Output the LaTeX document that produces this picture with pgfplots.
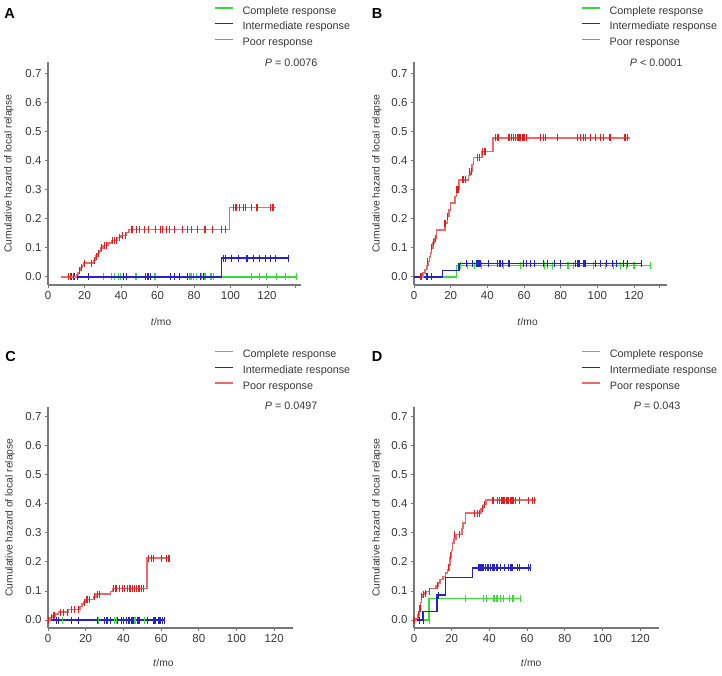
\documentclass[border=0pt]{standalone}
\usepackage{fontspec}
\setmainfont{Liberation Sans}
\usepackage{pgfplots}
\pgfplotsset{compat=1.18}
\definecolor{cgreen}{RGB}{55,220,55}
\definecolor{cblue}{RGB}{35,35,200}
\definecolor{credl}{RGB}{240,105,105}
\definecolor{cred}{RGB}{225,30,30}
\definecolor{axgray}{RGB}{120,120,120}
\definecolor{txtgray}{RGB}{55,55,55}
\tikzset{pval/.style={anchor=east, font=\fontsize{10.8}{12}\selectfont, text=txtgray}}
\pgfplotsset{
  km/.style={
    scale only axis, xmin=0, ymin=-0.0275, clip mode=individual,
    axis lines=left, axis line style={draw=axgray, line width=1.2pt, -},
    tick align=outside, major tick length=3pt,
    tick style={draw=axgray, line width=1pt},
    ytick={0,0.1,0.2,0.3,0.4,0.5,0.6,0.7},
    yticklabel style={/pgf/number format/.cd, fixed, fixed zerofill, precision=1},
    xtick={0,20,40,60,80,100,120},
    tick label style={font=\fontsize{11.5}{13}\selectfont, text=txtgray},
    /pgf/number format/assume math mode=true,
    ylabel={Cumulative hazard of local relapse}, xlabel={\textit{t}/mo},
    label style={font=\fontsize{10.3}{12}\selectfont, text=txtgray},
    legend cell align=left,
    legend style={draw=none, fill=none, inner sep=0pt, row sep=5.3pt,
      font=\fontsize{10.8}{12}\selectfont,
      nodes={inner sep=0pt, text height=7.8pt, text depth=2.6pt},
      /tikz/every odd column/.append style={column sep=9pt}},
    legend image code/.code={\draw[##1] (0pt,3.7pt) -- (18pt,3.7pt);},
  },
  cens/.style={only marks, mark=|, mark size=3.5pt, mark options={line width=1.1pt}, forget plot},
  curve/.style={const plot, line width=1.5pt, mark=none, forget plot},
}
\newcommand{\kmlegend}{%
\addlegendimage{draw=cgreen, line width=1.5pt}\addlegendentry{\textcolor{txtgray}{Complete response}}
\addlegendimage{draw=cblue, line width=1.5pt}\addlegendentry{\textcolor{txtgray}{Intermediate response}}
\addlegendimage{draw=credl, line width=1.5pt}\addlegendentry{\textcolor{txtgray}{Poor response}}}
\begin{document}
\begin{tikzpicture}
\path[use as bounding box] (0pt,0pt) rectangle (722pt,675pt);
% Panel letters
\node[font=\bfseries\fontsize{14.5}{15}\selectfont] at (9.5pt,661pt) {A};
\node[font=\bfseries\fontsize{14.5}{15}\selectfont] at (377pt,661pt) {B};
\node[font=\bfseries\fontsize{14.5}{15}\selectfont] at (10.5pt,318pt) {C};
\node[font=\bfseries\fontsize{14.5}{15}\selectfont] at (377pt,318pt) {D};

% ---------------- A ----------------
\begin{axis}[km, at={(48pt,390pt)}, anchor=south west, width=253pt, height=223pt,
  xmax=138.6, ymax=0.739,
  extra x ticks={135.5}, extra x tick labels={},
  xlabel style={at={(axis description cs:0.447,-0.166)}, anchor=center},
  ylabel style={at={(axis description cs:-0.154,0.5)}, anchor=center},
  legend style={at={(axis description cs:0.656,1.25)}, anchor=north west}]
\kmlegend
\addplot[curve, cgreen] coordinates {(16,0) (136,0)};
\addplot[cens, cgreen] coordinates {(30.3,0)(34.9,0)(36.2,0)(38.5,0)(39.5,0)(48.2,0)(58.6,0)(77.8,0)(78.7,0)(79.6,0)(81.4,0)(84.2,0)(86,0)(88.8,0)(89.7,0)(90.6,0)(111.6,0)(115.8,0)(119.8,0)(125.3,0)(129.9,0)(135.9,0)};
\addplot[curve, cblue] coordinates {(12,0) (95,0.065) (132,0.065)};
\addplot[cens, cblue] coordinates {(13,0)(14.5,0)(16,0)(22,0)(41.5,0)(43,0)(53.5,0)(54.5,0)(55.3,0)(56,0)(67,0)(69.5,0)(72,0)(76.5,0)(83.5,0)(85,0)
 (96,0.065)(97,0.065)(100.4,0.065)(104.5,0.065)(109,0.065)(112.7,0.065)(115.8,0.065)(119,0.065)(121.8,0.065)(124.5,0.065)(131.8,0.065)};
\addplot[curve, credl] coordinates {(7.3,0)(15.5,0.008)(16.5,0.016)(17.3,0.024)(18,0.032)(18.7,0.04)(19.5,0.048)(25,0.056)(25.7,0.064)(26.4,0.072)(27,0.08)(28,0.09)(29,0.1)(30,0.108)(33,0.117)(35,0.126)(38,0.135)(40,0.143)(43,0.153)(44.5,0.163)(99.5,0.239)(125,0.239)};
\addplot[cens, cred] coordinates {(11,0)(12.5,0)(14,0)(17.5,0.024)(18.5,0.032)(20,0.048)(24,0.048)(25.3,0.056)(26.6,0.072)(27.5,0.08)(29.5,0.1)(31,0.108)(32,0.108)(35.5,0.126)(36.5,0.126)(37.5,0.126)(39,0.135)(41,0.143)(42.5,0.143)
 (46,0.163)(48.5,0.163)(50,0.163)(52.7,0.163)(54.9,0.163)(59.1,0.163)(61.5,0.163)(62.9,0.163)(65.1,0.163)(66.7,0.163)(69.1,0.163)(73.6,0.163)(76.4,0.163)(78.5,0.163)(81.8,0.163)(86,0.163)(90,0.163)(95.1,0.163)(97.3,0.163)
 (101.8,0.239)(103,0.239)(105,0.239)(106.9,0.239)(108.2,0.239)(111.3,0.239)(114.5,0.239)(121.8,0.239)(123.1,0.239)(123.6,0.239)};
\node[pval] at (axis description cs:1.079,0.995) {\textit{P} = 0.0076};
\end{axis}

% ---------------- B ----------------
\begin{axis}[km, at={(414pt,390pt)}, anchor=south west, width=253pt, height=223pt,
  xmax=138, ymax=0.739,
  extra x ticks={134}, extra x tick labels={},
  xlabel style={at={(axis description cs:0.449,-0.166)}, anchor=center},
  ylabel style={at={(axis description cs:-0.146,0.5)}, anchor=center},
  legend style={at={(axis description cs:0.66,1.25)}, anchor=north west}]
\kmlegend
\addplot[curve, cgreen] coordinates {(0,0)(23.1,0.04)(129.5,0.04)};
\addplot[cens, cgreen] coordinates {(25.5,0.04)(29,0.04)(33,0.04)(36.7,0.04)(49,0.04)(58,0.04)(71,0.04)(73,0.04)(75.5,0.04)(80,0.04)(84,0.04)(87,0.04)(98,0.04)(104.5,0.04)(109,0.04)(112.7,0.04)(116,0.04)(120,0.04)(129,0.04)};
\addplot[curve, cblue] coordinates {(0,0)(15.5,0.023)(24.5,0.047)(124.5,0.047)};
\addplot[cens, cblue] coordinates {(6.7,0)(7.5,0)(9.5,0)
 (28.7,0.047)(31.8,0.047)(34.2,0.047)(34.9,0.047)(36,0.047)(40.4,0.047)(45.5,0.047)(46.9,0.047)(48.2,0.047)(51.8,0.047)(59.6,0.047)(61.5,0.047)(63.3,0.047)(65.5,0.047)(70.5,0.047)(72.7,0.047)(76.4,0.047)(80,0.047)(88.2,0.047)(89.1,0.047)(90,0.047)(92.7,0.047)(93.6,0.047)(99.1,0.047)(101.8,0.047)(105,0.047)(108.2,0.047)(110.5,0.047)(114.5,0.047)(116.4,0.047)(124.2,0.047)};
\addplot[curve, credl] coordinates {(3.8,0)(5,0.013)(6,0.026)(7,0.04)(7.8,0.053)(8.5,0.068)(9,0.083)(9.6,0.1)(10.3,0.117)(10.9,0.133)(12.4,0.162)(16.9,0.185)(18.2,0.208)(19,0.231)(20,0.254)(22.4,0.277)(23.3,0.3)(24.5,0.334)(29.6,0.349)(30.5,0.363)(31.5,0.387)(32.4,0.41)(37,0.432)(43,0.478)(118,0.478)};
\addplot[cens, cred] coordinates {(3.8,0)(7.5,0.053)(9.6,0.1)(10.5,0.117)(11.8,0.133)(16.9,0.185)(18.5,0.208)(23.1,0.3)(24,0.3)(26.7,0.334)(28.2,0.334)(30.5,0.363)(31.5,0.363)(34.5,0.41)(35.5,0.41)(37.6,0.432)(38.7,0.432)
 (44.5,0.478)(45.8,0.478)(51.8,0.478)(53.1,0.478)(54.2,0.478)(55.5,0.478)(56.7,0.478)(57.8,0.478)(59.1,0.478)(60,0.478)(61.5,0.478)(69.1,0.478)(70.5,0.478)(71.8,0.478)(78.5,0.478)(89.1,0.478)(90.9,0.478)(92.4,0.478)(93.6,0.478)(96.4,0.478)(99.1,0.478)(101.5,0.478)(103.6,0.478)(106.9,0.478)(115.1,0.478)(116.4,0.478)};
\node[pval] at (axis description cs:1.075,0.995) {\textit{P} < 0.0001};
\end{axis}

% ---------------- C ----------------
\begin{axis}[km, at={(48pt,47pt)}, anchor=south west, width=245pt, height=221pt,
  xmax=130, ymax=0.734,
  xlabel style={at={(axis description cs:0.471,-0.158)}, anchor=center},
  ylabel style={at={(axis description cs:-0.155,0.5)}, anchor=center},
  legend style={at={(axis description cs:0.678,1.258)}, anchor=north west}]
\kmlegend
\addplot[curve, cgreen] coordinates {(2,0)(52,0)};
\addplot[curve, cblue] coordinates {(0,0)(62,0)};
\addplot[cens, cgreen] coordinates {(7.6,0)(27,0)(35.4,0)(36.3,0)(45.7,0)(46.5,0)(51.3,0)};
\addplot[cens, cblue] coordinates {(4.4,0)(5.8,0)(12.4,0)(16.3,0)(26.2,0)(30.1,0)(31.3,0)(33,0)(37,0)(38.9,0)(40.2,0)(41.6,0)(43,0)(44.2,0)(45.1,0)(47.3,0)(48.3,0)(52.8,0)(55.8,0)(56.6,0)(57.2,0)(58.9,0)(59.6,0)(60.7,0)(61.9,0)};
\addplot[curve, credl] coordinates {(0,0)(1,0.009)(2.5,0.014)(4,0.02)(5.5,0.027)(10.8,0.037)(17,0.046)(18,0.055)(19,0.062)(20,0.07)(24.5,0.08)(25.5,0.089)(33.2,0.098)(34.5,0.108)(52.5,0.213)(64.5,0.213)};
\addplot[cens, cred] coordinates {(0.5,0)(1.8,0.009)(2.7,0.014)(3.5,0.014)(6.7,0.027)(8,0.027)(10.3,0.027)(12.4,0.037)(14.2,0.037)(16.3,0.037)(19.5,0.062)(20.7,0.07)(22,0.07)(24.8,0.08)(26.5,0.089)(27.4,0.089)
 (34.8,0.108)(35.6,0.108)(36.3,0.108)(37.7,0.108)(39.5,0.108)(40.7,0.108)(42,0.108)(43.4,0.108)(43.9,0.108)(44.8,0.108)(46,0.108)(46.9,0.108)(48.3,0.108)(49.6,0.108)(50.8,0.108)
 (53.1,0.213)(54.9,0.213)(55.8,0.213)(60.2,0.213)(62.8,0.213)(64.2,0.213)};
\node[pval] at (axis description cs:1.114,1.005) {\textit{P} = 0.0497};
\end{axis}

% ---------------- D ----------------
\begin{axis}[km, at={(414pt,47pt)}, anchor=south west, width=245pt, height=221pt,
  xmax=130, ymax=0.734,
  xlabel style={at={(axis description cs:0.478,-0.158)}, anchor=center},
  ylabel style={at={(axis description cs:-0.151,0.5)}, anchor=center},
  legend style={at={(axis description cs:0.682,1.258)}, anchor=north west}]
\kmlegend
\addplot[curve, cgreen] coordinates {(0,0)(8,0.075)(57,0.075)};
\addplot[cens, cgreen] coordinates {(8,0)(27.3,0.075)(36.7,0.075)(38.5,0.075)(42,0.075)(42.9,0.075)(43.8,0.075)(44.5,0.075)(45.9,0.075)(47.3,0.075)(50.6,0.075)(52.5,0.075)(56.4,0.075)};
\addplot[curve, cblue] coordinates {(0,0)(4.8,0.029)(12.3,0.086)(16.6,0.147)(31,0.18)(62,0.18)};
\addplot[cens, cblue] coordinates {(3,0)(5,0)(13.2,0.086)
 (34.4,0.18)(35,0.18)(35.7,0.18)(36.6,0.18)(37.1,0.18)(38,0.18)(38.8,0.18)(39.7,0.18)(40.6,0.18)(41.5,0.18)(42,0.18)(42.7,0.18)(43.6,0.18)(44.5,0.18)(45.9,0.18)(48,0.18)(50,0.18)(51.1,0.18)(52,0.18)(54.7,0.18)(56.1,0.18)(60.9,0.18)(61.7,0.18)};
\addplot[curve, credl] coordinates {(0,0)(1,0.006)(2,0.018)(2.8,0.04)(3.5,0.06)(4,0.08)(4.8,0.088)(5.5,0.093)(6.7,0.099)(8.1,0.108)(11.7,0.118)(12.8,0.128)(13.8,0.14)(15.5,0.15)(16.6,0.162)(17.9,0.172)(18.7,0.19)(19.1,0.215)(19.8,0.24)(20.5,0.265)(21.2,0.28)(22.3,0.295)(25.5,0.315)(26,0.335)(27.3,0.368)(35.6,0.385)(36.8,0.398)(38.2,0.413)(64.5,0.413)};
\addplot[cens, cred] coordinates {(0,0)(2.6,0.018)(3.2,0.04)(4,0.08)(4.8,0.088)(6.2,0.093)(8,0.099)(12.3,0.118)(18.5,0.18)(19.4,0.224)(21.7,0.295)(24.2,0.295)(32.3,0.368)(33.5,0.368)(34.9,0.368)(36.2,0.385)(37.5,0.398)
 (41.5,0.413)(42.4,0.413)(44.1,0.413)(45.4,0.413)(46.3,0.413)(46.8,0.413)(47.3,0.413)(48,0.413)(48.9,0.413)(49.4,0.413)(50.3,0.413)(51.1,0.413)(52,0.413)(52.9,0.413)(53.8,0.413)(56.1,0.413)(60.9,0.413)(62.7,0.413)(63.9,0.413)};
\node[pval] at (axis description cs:1.102,1.005) {\textit{P} = 0.043};
\end{axis}
\end{tikzpicture}
\end{document}
